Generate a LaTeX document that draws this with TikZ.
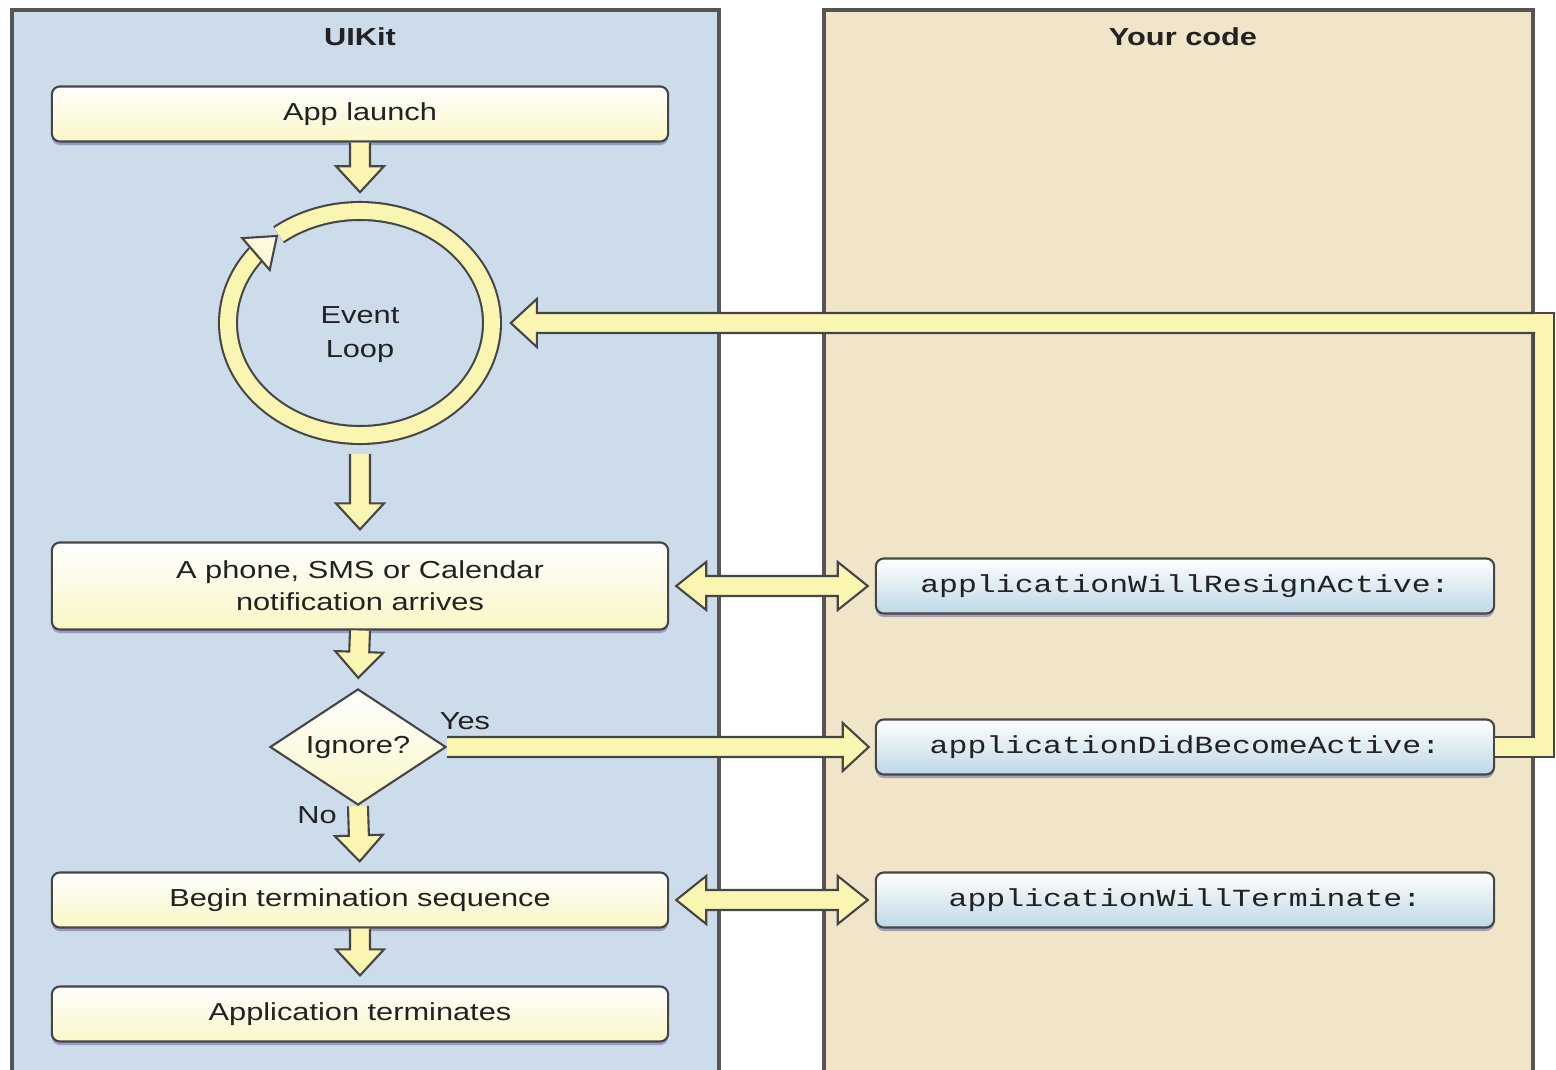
\documentclass[tikz,border=0pt]{standalone}
\usepackage{fontspec}
\setmainfont{Liberation Sans}[FakeStretch=1.25]
\setmonofont{Liberation Mono}[FakeStretch=1.28]
\usetikzlibrary{shapes.geometric}
\usetikzlibrary{shadows}
\usetikzlibrary{positioning}
\usetikzlibrary{calc}
\definecolor{kitblue}{RGB}{204,220,234}
\definecolor{codebeige}{RGB}{241,229,201}
\definecolor{frameline}{RGB}{85,85,85}
\definecolor{boxline}{RGB}{70,70,70}
\definecolor{boxyellow}{RGB}{250,246,198}
\definecolor{callblue}{RGB}{190,216,230}
\definecolor{arrowfill}{RGB}{250,245,176}
\definecolor{shadowtint}{RGB}{120,110,170}
\definecolor{inktext}{RGB}{34,34,34}
\tikzset{
	fatgap/.store in=\fatgap, fatgap=0cm,
	fat/.style={draw=boxline, line width=0.6pt, fill=arrowfill,
		to path={let \p1=(\tikztostart), \p2=($(\tikztotarget)!\fatgap!(\tikztostart)$) in
			($(\p1)!0.1cm!90:(\p2)$) -- ($(\p2)!0.26cm!(\p1)!0.1cm!90:(\p2)$) -- ($(\p2)!0.26cm!(\p1)!0.24cm!90:(\p2)$)
			-- (\p2) -- ($(\p2)!0.26cm!(\p1)!0.24cm!-90:(\p2)$) -- ($(\p2)!0.26cm!(\p1)!0.1cm!-90:(\p2)$) -- ($(\p1)!0.1cm!-90:(\p2)$)}},
	fatboth/.style={draw=boxline, line width=0.6pt, fill=arrowfill,
		to path={let \p1=($(\tikztostart)!\fatgap!(\tikztotarget)$), \p2=($(\tikztotarget)!\fatgap!(\tikztostart)$) in
			(\p1) -- ($(\p1)!0.3cm!(\p2)!0.24cm!90:(\p2)$) -- ($(\p1)!0.3cm!(\p2)!0.1cm!90:(\p2)$)
			-- ($(\p2)!0.3cm!(\p1)!0.1cm!90:(\p2)$) -- ($(\p2)!0.3cm!(\p1)!0.24cm!90:(\p2)$) -- (\p2)
			-- ($(\p2)!0.3cm!(\p1)!0.24cm!-90:(\p2)$) -- ($(\p2)!0.3cm!(\p1)!0.1cm!-90:(\p2)$)
			-- ($(\p1)!0.3cm!(\p2)!0.1cm!-90:(\p2)$) -- ($(\p1)!0.3cm!(\p2)!0.24cm!-90:(\p2)$) -- cycle}}
}
\begin{document}
\begin{tikzpicture}[x=0.01cm, y=-0.01cm, font=\fontsize{7}{9}\selectfont,
	every node/.style={text=inktext},
	panel/.style={draw=frameline, line width=1pt},
	kitbox/.style={draw=boxline, line width=0.6pt, rounded corners=0.08cm, top color=white, bottom color=boxyellow,
		minimum width=6.16cm, minimum height=0.55cm, inner sep=0pt, align=center,
		drop shadow={shadow xshift=0pt, shadow yshift=-1pt, fill=shadowtint, opacity=0.6}},
	callbox/.style={kitbox, top color=white, bottom color=callblue, minimum width=6.18cm, font=\fontsize{7}{9}\selectfont\ttfamily},
	decision/.style={diamond, aspect=1.5, draw=boxline, line width=0.6pt, top color=white, bottom color=boxyellow,
		minimum width=1.76cm, minimum height=1.16cm, inner sep=0pt},
	loopnode/.style={ellipse, minimum width=3cm, minimum height=2.6cm, inner sep=0pt, align=center,
		font=\fontsize{7}{9.4}\selectfont, text height=20.8pt},
	ring/.style={draw=boxline, line width=0.6pt, double=arrowfill, double distance=4.5pt},
	shaft/.style={draw=boxline, line width=0.6pt, double=arrowfill, double distance=5.1pt}]
	\useasboundingbox (0,0) rectangle (1556,1070);
	\draw[panel, fill=kitblue] (12,10) rectangle (719,1090);
	\draw[panel, fill=codebeige] (824,10) rectangle (1533,1090);
	\node[font=\fontsize{7}{9}\selectfont\bfseries] (uikit) at (360,37) {UIKit};
	\node[font=\fontsize{7}{9}\selectfont\bfseries] (yours) at (1183,37) {Your code};

	\node[kitbox] (launch) at (360,114) {App launch};
	\node[loopnode] (loop) at (360,323) {Event\\Loop};
	\node[kitbox, minimum height=0.87cm] (notify) at (360,586) {A phone, SMS or Calendar\\notification arrives};
	\node[decision] (ignore) at (358,747) {Ignore?};
	\node[kitbox] (beginterm) at (360,900) {Begin termination sequence};
	\node[kitbox] (terminated) at (360,1014) {Application terminates};
	\node[callbox] (resign) at (1185,586) {applicationWillResignActive:};
	\node[callbox] (active) at (1185,747) {applicationDidBecomeActive:};
	\node[callbox] (terminate) at (1185,900) {applicationWillTerminate:};
	\node (yes) at (465,721) {Yes};
	\node (no) at (317,815) {No};

	\draw[ring] ($(loop.center)+(-128:132 and 112)$) arc[start angle=-128, end angle=218, x radius=132, y radius=112];
	\coordinate (headbase) at ($(loop.center)+(218:132 and 112)$);
	\coordinate (headtip) at ($(loop.center)+(231:132 and 112)$);
	\draw[draw=boxline, line width=0.6pt, fill=white!55!arrowfill]
		($(headbase)!0.21cm!90:(headtip)$) -- (headtip) -- ($(headbase)!0.21cm!-90:(headtip)$) -- cycle;

	\draw[fat] (launch.south) to (loop.north);
	\draw[fat, fatgap=0.12cm] (loop.south) to (notify.north);
	\draw[fat, fatgap=0.1cm] (notify.south) to (ignore.north);
	\draw[fat, fatgap=0.1cm] (ignore.south) to (beginterm.north);
	\draw[fat, fatgap=0.1cm] (beginterm.south) to (terminated.north);
	\draw[fat, fatgap=0.06cm] (ignore.east) to (active.west);
	\draw[fatboth, fatgap=0.07cm] (notify.east) to (resign.west);
	\draw[fatboth, fatgap=0.07cm] (beginterm.east) to (terminate.west);

	\coordinate (turn) at (1544,323);
	\coordinate (turnin) at (1535,323);
	\draw[shaft] (active.east) -| (turn) -- (turnin);
	\draw[fat] (turnin) to (loop.east);
\end{tikzpicture}
\end{document}
